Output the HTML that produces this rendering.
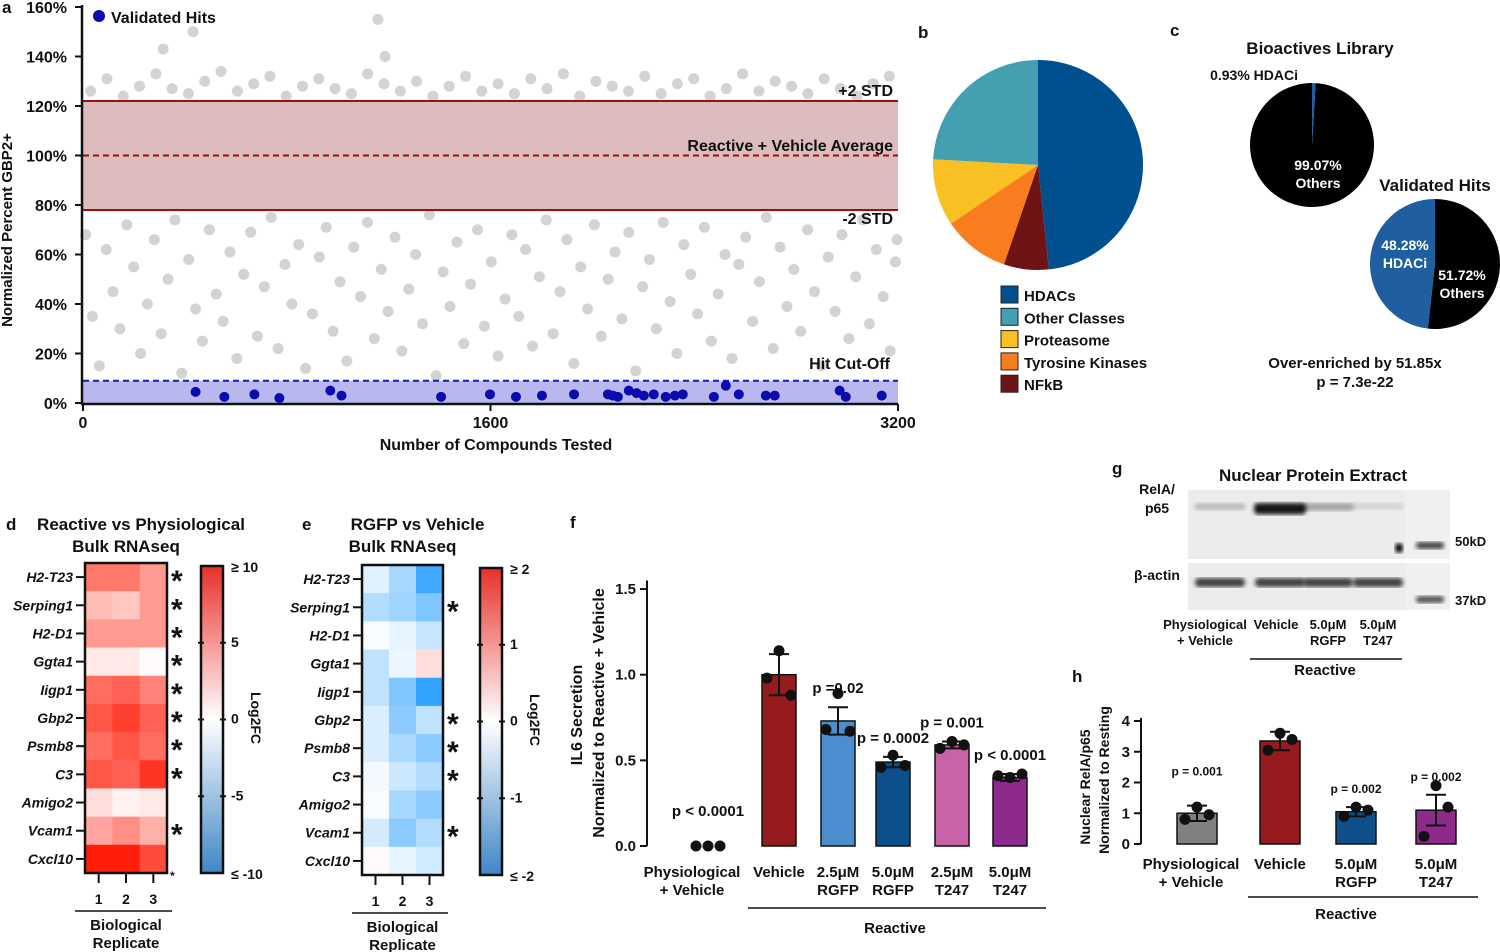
<!DOCTYPE html>
<html><head><meta charset="utf-8"><style>
html,body{margin:0;padding:0;background:#fff}
svg{display:block;font-family:"Liberation Sans",Arial,sans-serif;font-weight:bold}
</style></head><body>
<svg id="fig" width="1500" height="952" viewBox="0 0 1500 952" xmlns="http://www.w3.org/2000/svg">
<defs>
<filter id="blur2"><feGaussianBlur stdDeviation="2"/></filter>
<linearGradient id="gradBar" x1="0" y1="0" x2="0" y2="1">
<stop offset="0" stop-color="#e8302a"/><stop offset="0.5" stop-color="#ffffff"/><stop offset="1" stop-color="#3f86c6"/></linearGradient>
</defs>
<g id="pa"></g>
<g id="pb"></g>
<g id="pc"></g>
<g id="pd"></g>
<g id="pe"></g>
<g id="pf"></g>
<g id="pg"></g>
<g id="ph"></g>
</svg>
<script>
// ---------- data ----------
const lowIdx=[10,37,64,91,118,145,172,199,226,253,280,307,334,361,388,415,442,469,496,523,550,577,604,631,658,685,712,739,766,793,820,847,874,901,928,955,982,1009,1036,1063,1090,1117,1144,1171,1198,1225,1252,1279,1306,1333,1360,1387,1414,1441,1468,1495,1522,1549,1576,1603,1630,1657,1684,1711,1738,1765,1792,1819,1846,1873,1900,1927,1954,1981,2008,2035,2062,2089,2116,2143,2170,2197,2224,2251,2278,2305,2332,2359,2386,2413,2440,2467,2494,2521,2548,2575,2602,2629,2656,2683,2710,2737,2764,2791,2818,2845,2872,2899,2926,2953,2980,3007,3034,3061,3088,3115,3142,3169,3190,3196];
const lowVal=[68,35,15,62,45,30,72,55,20,40,66,28,50,74,12,58,38,25,70,44,
33,61,18,52,69,27,47,75,22,56,40,64,14,36,59,71,29,49,17,63,
43,73,26,54,37,67,21,46,60,32,76,11,53,39,65,24,48,70,31,57,
19,42,68,35,62,23,51,74,28,45,66,16,55,38,72,27,50,61,34,69,
13,47,58,30,73,41,20,64,52,36,71,25,44,60,18,56,67,33,49,75,
22,63,39,54,29,70,45,15,59,37,68,26,51,74,32,62,43,21,57,66];
const highIdx=[30,94,158,222,286,350,414,478,542,606,670,734,798,862,926,990,1054,1118,1182,1246,1310,1374,1438,1502,1566,1630,1694,1758,1822,1886,1950,2014,2078,2142,2206,2270,2334,2398,2462,2526,2590,2654,2718,2782,2846,2910,2974,3038,3102,3166,432,315,1158,1186];
const highVal=[126,131,124,128,133,127,125,130,134,126,129,132,124,128,131,127,125,133,129,126,
130,124,128,132,126,129,125,131,127,133,124,130,128,126,132,125,129,131,124,127,
133,126,130,128,125,131,127,124,129,132,150,143,155,140];
const hitIdx=[442,555,673,771,971,1015,1406,1598,1700,1802,1928,2061,2080,2100,2143,2174,2202,2241,2288,2324,2355,2477,2524,2575,2681,2716,2971,2995,3136];
const hitVal=[4.5,2.5,3.5,2,5,3,2.5,3.5,2.5,3,3.5,3.5,3,2.5,5,4,3,3.5,2.5,3,3.5,2.5,7,3.5,3,3,5,2.5,3];
const pieBCats=["HDACs","Other Classes","Proteasome","Tyrosine Kinases","NFkB"];
const pieBVals=[48.3,24.1,10.3,10.3,6.9];
const pieC1Vals=[0.93,99.07];
const pieC2Vals=[48.28,51.72];
const genes=["H2-T23","Serping1","H2-D1","Ggta1","Iigp1","Gbp2","Psmb8","C3","Amigo2","Vcam1","Cxcl10"];
const heatD=[[6,6,4.5],[3,2.5,4.5],[4.5,4.5,4.5],[1,1,0.2],[6.5,7,5.5],[7.5,8.5,7],[6.5,7.5,6.5],[7.5,7,9],[1.5,0.6,1],[4,5,3.5],[10,10,8]];
const sigD=[1,1,1,1,1,1,1,1,0,1,0];
const heatE=[[-0.25,-0.7,-1.5],[-0.6,-0.75,-1],[-0.05,-0.2,-0.45],[-0.5,-0.15,0.3],[-0.5,-1,-1.6],[-0.3,-0.9,-0.5],[-0.3,-0.65,-0.9],[-0.1,-0.4,-0.6],[-0.05,-0.7,-0.9],[-0.35,-0.9,-0.6],[0.05,-0.2,-0.35]];
const sigE=[0,1,0,0,0,1,1,1,0,1,0];
const fCats=["Physiological|+ Vehicle","Vehicle","2.5μM|RGFP","5.0μM|RGFP","2.5μM|T247","5.0μM|T247"];
const fVals=[0,1.0,0.73,0.49,0.59,0.40];
const fErr=[0,0.12,0.08,0.03,0.02,0.02];
const fPts=[[0,0,0],[1.14,0.98,0.88],[0.89,0.68,0.67],[0.53,0.46,0.47],[0.61,0.57,0.59],[0.40,0.41,0.42]];
const fP=["p < 0.0001","","p =0.02","p = 0.0002","p = 0.001","p < 0.0001"];
const fTicks=[0,0.5,1.0,1.5];
const hCats=["Physiological|+ Vehicle","Vehicle","5.0μM|RGFP","5.0μM|T247"];
const hVals=[1.0,3.35,1.05,1.1];
const hErr=[0.25,0.3,0.15,0.5];
const hPts=[[1.2,0.8,0.95],[3.6,3.05,3.4],[1.2,0.9,1.1],[1.9,0.25,1.2]];
const hP=["p = 0.001","","p = 0.002","p = 0.002"];
const hTicks=[0,1,2,3,4];

// ---------- helpers ----------
const NS="http://www.w3.org/2000/svg";
function mk(parent,tag,attrs,text){const e=document.createElementNS(NS,tag);for(const k in attrs)e.setAttribute(k,attrs[k]);if(text!==undefined)e.textContent=text;parent.appendChild(e);return e;}
function txt(p,x,y,s,size,anchor,extra){return mk(p,"text",Object.assign({x:x,y:y,"font-size":size||16,"text-anchor":anchor||"start",fill:"#111"},extra||{}),s);}
function arc(cx,cy,r,a0,a1){const p0=[cx+r*Math.sin(a0),cy-r*Math.cos(a0)],p1=[cx+r*Math.sin(a1),cy-r*Math.cos(a1)];const lg=Math.abs(a1-a0)>Math.PI?1:0;const sw=a1>a0?1:0;return `M${cx},${cy}L${p0[0]},${p0[1]}A${r},${r} 0 ${lg} ${sw} ${p1[0]},${p1[1]}Z`;}

// ---------- panel a ----------
const A=document.getElementById("pa");
const ax=v=>83+v/3200*815, ay=v=>403-v*2.475;
txt(A,2,13,"a",17);
mk(A,"rect",{x:83,y:ay(122),width:815,height:ay(78)-ay(122),fill:"#dcbcbc"});
mk(A,"rect",{x:83,y:ay(9),width:815,height:ay(0)-ay(9),fill:"#b8b8ee"});
function dots(I,V){for(let i=0;i<I.length;i++){
 const c=mk(A,"circle",{cx:ax(I[i]),cy:ay(V[i]),r:5.5,fill:"#c4c4c4",opacity:0.75});
 
 
}}
dots(lowIdx,lowVal);dots(highIdx,highVal);
mk(A,"line",{x1:83,x2:898,y1:ay(122),y2:ay(122),stroke:"#9b1010","stroke-width":2});
mk(A,"line",{x1:83,x2:898,y1:ay(78),y2:ay(78),stroke:"#9b1010","stroke-width":2});
mk(A,"line",{x1:83,x2:898,y1:ay(100),y2:ay(100),stroke:"#9b1010","stroke-width":2,"stroke-dasharray":"6,4"});
mk(A,"line",{x1:83,x2:898,y1:ay(9),y2:ay(9),stroke:"#1a1aaa","stroke-width":2,"stroke-dasharray":"6,4"});
for(let i=0;i<hitIdx.length;i++){
 const c=mk(A,"circle",{cx:ax(hitIdx[i]),cy:ay(hitVal[i]),r:5,fill:"#0b0bb0"});
 
 
}
mk(A,"line",{x1:82,x2:82,y1:5,y2:404,stroke:"#111","stroke-width":2.5});
mk(A,"line",{x1:81,x2:898,y1:404,y2:404,stroke:"#111","stroke-width":2.5});
[0,20,40,60,80,100,120,140,160].forEach(v=>{mk(A,"line",{x1:75,x2:82,y1:ay(v),y2:ay(v),stroke:"#111","stroke-width":2});txt(A,67,ay(v)+6,v+"%",16,"end");});
[0,1600,3200].forEach(v=>{mk(A,"line",{x1:ax(v),x2:ax(v),y1:404,y2:411,stroke:"#111","stroke-width":2});txt(A,ax(v),428,String(v),16,"middle");});
txt(A,496,450,"Number of Compounds Tested",16,"middle");
txt(A,12,230,"Normalized Percent GBP2+",15,"middle",{transform:"rotate(-90 12 230)"});
mk(A,"circle",{cx:99,cy:16,r:6,fill:"#0b0bb0"});
txt(A,111,23,"Validated Hits",16);
txt(A,893,96,"+2 STD",16,"end");
txt(A,893,151,"Reactive + Vehicle Average",16,"end");
txt(A,893,224,"-2 STD",16,"end");
txt(A,890,369,"Hit Cut-Off",16,"end");

// ---------- panel b ----------
const B=document.getElementById("pb");
txt(B,918,38,"b",17);
const bCols=["#00508f","#44a0b0","#f8c023","#f97c1f","#6e1414"];
let tot=pieBVals.reduce((a,b)=>a+b,0),acc=0;
const bOrder=[0,4,3,2,1];
bOrder.forEach(i=>{const a0=acc/tot*2*Math.PI;acc+=pieBVals[i];const a1=acc/tot*2*Math.PI;
 const p=mk(B,"path",{d:arc(1038,165,105,a0,a1),fill:bCols[i]});
 
 });
pieBCats.forEach((c,i)=>{const y=286+i*22.3;mk(B,"rect",{x:1001,y:y,width:17,height:17,fill:bCols[i],stroke:"#222","stroke-width":1});txt(B,1024,y+15,c,15);});

// ---------- panel c ----------
const C=document.getElementById("pc");
txt(C,1170,36,"c",17);
txt(C,1320,54,"Bioactives Library",17,"middle");
let a1=pieC1Vals[0]/100*2*Math.PI;
mk(C,"path",{d:arc(1312,145,62,a1,2*Math.PI),fill:"#000"});
mk(C,"path",{d:arc(1312,145,62,0,a1),fill:"#1f5fa0"});
txt(C,1298,80,pieC1Vals[0]+"% HDACi",14,"end");
txt(C,1318,170,pieC1Vals[1]+"%",14,"middle",{fill:"#fff"});
txt(C,1318,188,"Others",14,"middle",{fill:"#fff"});
txt(C,1435,191,"Validated Hits",17,"middle");
let a2=pieC2Vals[0]/100*2*Math.PI;
mk(C,"path",{d:arc(1435,264,65,-a2,0),fill:"#1f5fa0"});
mk(C,"path",{d:arc(1435,264,65,0,2*Math.PI-a2),fill:"#000"});
txt(C,1405,250,pieC2Vals[0]+"%",14,"middle",{fill:"#fff"});
txt(C,1405,268,"HDACi",14,"middle",{fill:"#fff"});
txt(C,1462,280,pieC2Vals[1]+"%",14,"middle",{fill:"#fff"});
txt(C,1462,298,"Others",14,"middle",{fill:"#fff"});
txt(C,1355,368,"Over-enriched by 51.85x",15,"middle");
txt(C,1355,387,"p = 7.3e-22",15,"middle");

// ---------- heatmaps ----------
function lerp(a,b,t){return a.map((v,i)=>Math.round(v+(b[i]-v)*t));}
function hcol(v,max){let t=Math.max(-1,Math.min(1,v/max));const w=[255,255,255];return t>=0?`rgb(${lerp(w,[255,30,10],t)})`:`rgb(${lerp(w,[0,140,255],-t)})`;}
function heat(G,x0,y0,w,h,data,sig,max,barX,tickLbl,title1,title2,letter,lx){
 txt(G,lx,530,letter,17);
 txt(G,x0+w/2+15,530,title1,17,"middle");txt(G,x0+w/2,552,title2,17,"middle");
 const cw=w/3,rh=h/11;
 data.forEach((row,r)=>{row.forEach((v,c)=>{const e=mk(G,"rect",{x:x0+c*cw,y:y0+r*rh,width:cw+0.5,height:rh+0.5,fill:hcol(v,max)});
  
  });
  mk(G,"line",{x1:x0-9,x2:x0,y1:y0+(r+.5)*rh,y2:y0+(r+.5)*rh,stroke:"#111","stroke-width":2});
  txt(G,x0-12,y0+(r+.5)*rh+5,genes[r],14,"end",{"font-style":"italic"});
  if(sig[r])txt(G,x0+w+4,y0+(r+.5)*rh+14,"*",30);
 });
 mk(G,"rect",{x:x0,y:y0,width:w,height:h,fill:"none",stroke:"#111","stroke-width":2.5});
 [0,1,2].forEach(c=>{const x=x0+(c+.5)*cw;mk(G,"line",{x1:x,x2:x,y1:y0+h+1,y2:y0+h+10,stroke:"#111","stroke-width":2});txt(G,x,y0+h+31,String(c+1),14,"middle");});
 mk(G,"line",{x1:x0-10,x2:x0+w+5,y1:y0+h+38,y2:y0+h+38,stroke:"#111","stroke-width":1.5});
 txt(G,x0+w/2,y0+h+57,"Biological",15,"middle");txt(G,x0+w/2,y0+h+75,"Replicate",15,"middle");
 mk(G,"rect",{x:barX,y:y0+3,width:22,height:h-3,fill:"url(#gradBar)",stroke:"#111","stroke-width":2.5});
 const tv=[0,0.25,0.5,0.75,1];
 tv.forEach((t,i)=>{const y=y0+3+t*(h-3);if(i>0&&i<4){mk(G,"line",{x1:barX-3,x2:barX+3,y1:y,y2:y,stroke:"#111","stroke-width":2});mk(G,"line",{x1:barX+19,x2:barX+25,y1:y,y2:y,stroke:"#111","stroke-width":2});}
  txt(G,barX+30,y+(i==0?6:i==4?6:4),tickLbl[i],14);});
 txt(G,barX+50,y0+h/2,"Log2FC",14,"middle",{transform:`rotate(90 ${barX+50} ${y0+h/2})`});
}
heat(document.getElementById("pd"),85,563,82,310,heatD,sigD,10,201,["≥ 10","5","0","-5","≤ -10"],"Reactive vs Physiological","Bulk RNAseq","d",6);
heat(document.getElementById("pe"),362,565,81,310,heatE,sigE,2,480,["≥ 2","1","0","-1","≤ -2"],"RGFP vs Vehicle","Bulk RNAseq","e",302);
txt(document.getElementById("pd"),170,880,"*",12);

// ---------- bar charts ----------
function bars(G,axX,y0,ppu,centers,bw,cats,vals,errs,pts,ps,cols,ticks,tickFmt,yEnd,lblShift,pSize,lblOff){
 const Y=v=>y0-v*ppu;
 cats.forEach((c,i)=>{const x=centers[i];
  if(vals[i]>0){const r=mk(G,"rect",{x:x-bw/2,y:Y(vals[i]),width:bw,height:Y(0)-Y(vals[i]),fill:cols[i],stroke:"#111","stroke-width":1.5});
   
   }
  if(errs[i]>0){mk(G,"line",{x1:x,x2:x,y1:Y(vals[i]+errs[i]),y2:Y(vals[i]-errs[i]),stroke:"#111","stroke-width":2});
   mk(G,"line",{x1:x-10,x2:x+10,y1:Y(vals[i]+errs[i]),y2:Y(vals[i]+errs[i]),stroke:"#111","stroke-width":2});
   mk(G,"line",{x1:x-10,x2:x+10,y1:Y(vals[i]-errs[i]),y2:Y(vals[i]-errs[i]),stroke:"#111","stroke-width":2});}
  pts[i].forEach((v,k)=>{const p=mk(G,"circle",{cx:x+(k==0?0:k==1?-12:12),cy:Y(v),r:5.5,fill:"#111"});
   
   });
  const lx=x+(i==0?lblShift:0);
  c.split("|").forEach((l,j)=>txt(G,lx,y0+lblOff+j*18,l,15,"middle"));
  if(ps[i])txt(G,x,Y(vals[i]+errs[i])-(i==0?30:14),ps[i],pSize,"middle");
 });
 mk(G,"line",{x1:axX,x2:axX,y1:Y(yEnd),y2:y0,stroke:"#111","stroke-width":2});
 ticks.forEach(t=>{mk(G,"line",{x1:axX-7,x2:axX,y1:Y(t),y2:Y(t),stroke:"#111","stroke-width":2});txt(G,axX-11,Y(t)+5,tickFmt(t),15,"end");});
}
const F=document.getElementById("pf");
txt(F,570,528,"f",17);
bars(F,647,846,171.3,[708,779,838,893,952,1010],34,fCats,fVals,fErr,fPts,fP,["#000","#951b1e","#4a8ed0","#0c4f8b","#c963a8","#8e2a8c"],fTicks,t=>t.toFixed(1),1.55,-16,15,31);
mk(F,"line",{x1:748,x2:1046,y1:908,y2:908,stroke:"#111","stroke-width":1.5});
txt(F,895,933,"Reactive",15,"middle");
txt(F,582,715,"IL6 Secretion",16,"middle",{transform:"rotate(-90 582 715)"});
txt(F,604,713,"Normalized to Reactive + Vehicle",16,"middle",{transform:"rotate(-90 604 713)"});

const H=document.getElementById("ph");
txt(H,1072,682,"h",17);
bars(H,1141,844,30.75,[1197,1280,1356,1436],40,hCats,hVals,hErr,hPts,hP,["#808080","#951b1e","#0c4f8b","#8e2a8c"],hTicks,t=>String(t),4.1,-6,12,25);
mk(H,"line",{x1:1248,x2:1478,y1:897,y2:897,stroke:"#111","stroke-width":1.5});
txt(H,1346,919,"Reactive",15,"middle");
txt(H,1090,787,"Nuclear RelA/p65",14,"middle",{transform:"rotate(-90 1090 787)"});
txt(H,1109,780,"Normalized to Resting",14,"middle",{transform:"rotate(-90 1109 780)"});

// ---------- panel g ----------
const G=document.getElementById("pg");
txt(G,1112,474,"g",17);
txt(G,1313,481,"Nuclear Protein Extract",17,"middle");
txt(G,1157,494,"RelA/",14,"middle");txt(G,1157,513,"p65",14,"middle");
txt(G,1157,580,"β-actin",14,"middle");
mk(G,"rect",{x:1188,y:490,width:234,height:69,fill:"#ececec"});
mk(G,"rect",{x:1188,y:563,width:234,height:47,fill:"#ececec"});
mk(G,"rect",{x:1405,y:490,width:45,height:69,fill:"#f0f0f0"});
mk(G,"rect",{x:1405,y:563,width:45,height:47,fill:"#f0f0f0"});
const relA=[0.2,0.9,0.3,0.1];const lanes=[1220,1280,1328,1378];
lanes.forEach((x,i)=>{mk(G,"rect",{x:x-26,y:503,width:52,height:6+6*relA[i],rx:4,fill:"#000",opacity:relA[i],filter:"url(#blur2)"});
 mk(G,"rect",{x:x-25,y:578,width:50,height:9,rx:4,fill:"#222",opacity:0.85,filter:"url(#blur2)"});});
mk(G,"rect",{x:1416,y:542,width:28,height:7,rx:3,fill:"#444",filter:"url(#blur2)"});
mk(G,"rect",{x:1416,y:596,width:28,height:7,rx:3,fill:"#555",filter:"url(#blur2)"});
mk(G,"ellipse",{cx:1399,cy:548,rx:4,ry:5,fill:"#000",filter:"url(#blur2)"});
txt(G,1455,546,"50kD",13);txt(G,1455,605,"37kD",13);
txt(G,1205,629,"Physiological",13,"middle");txt(G,1205,645,"+ Vehicle",13,"middle");
txt(G,1276,629,"Vehicle",13,"middle");
txt(G,1328,629,"5.0μM",13,"middle");txt(G,1328,645,"RGFP",13,"middle");
txt(G,1378,629,"5.0μM",13,"middle");txt(G,1378,645,"T247",13,"middle");
mk(G,"line",{x1:1250,x2:1402,y1:659,y2:659,stroke:"#111","stroke-width":1.5});
txt(G,1325,675,"Reactive",15,"middle");
</script>
</body></html>
